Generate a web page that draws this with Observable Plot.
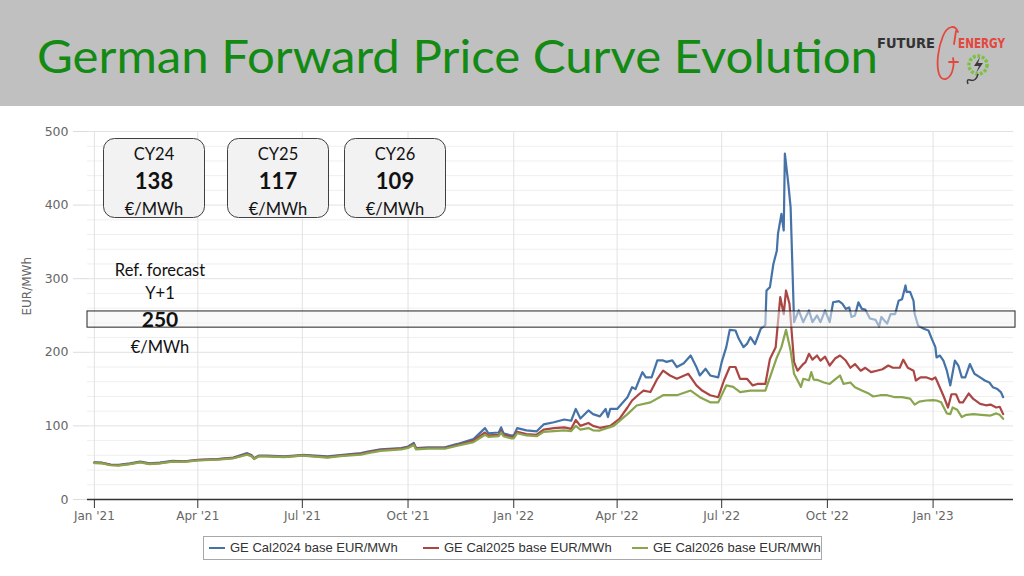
<!DOCTYPE html>
<html><head><meta charset="utf-8">
<script src="https://cdn.jsdelivr.net/npm/d3@7"></script>
<script src="https://cdn.jsdelivr.net/npm/@observablehq/plot@0.6"></script>
<style>
html,body{margin:0;padding:0;background:#fff;}
#page{position:relative;width:1024px;height:576px;overflow:hidden;background:#fff;}
#head{position:absolute;left:0;top:0;}
#chart{position:absolute;left:0;top:110px;}
#over{position:absolute;left:0;top:0;pointer-events:none;}
#legend{position:absolute;left:203px;top:536px;width:617px;height:22px;border:1px solid #a8a8a8;background:#fff;
  font-family:"Liberation Sans",Arial,sans-serif;font-size:13px;color:#333;}
.li{position:absolute;top:0;height:22px;line-height:22px;white-space:nowrap;}
.sw{display:inline-block;width:16px;height:2px;vertical-align:middle;margin-right:5px;position:relative;top:-1px;}
</style></head>
<body><div id="page">
<svg id="head" width="1024" height="106">
  <rect x="0" y="0" width="1024" height="106" fill="#c0c0c0"></rect>
  <text id="title" x="37" y="73" font-family="Lato, 'Open Sans', sans-serif" font-size="46" fill="#138a13" textLength="841" lengthAdjust="spacingAndGlyphs">German Forward Price Curve Evolution</text>
  <text x="877" y="48" font-family="'DejaVu Sans Condensed','DejaVu Sans',sans-serif" font-weight="bold" font-size="14" fill="#333" textLength="58" lengthAdjust="spacingAndGlyphs">FUTURE</text>
  <text x="958" y="48" font-family="'DejaVu Sans Condensed','DejaVu Sans',sans-serif" font-weight="bold" font-size="14" fill="#e4473d" textLength="47" lengthAdjust="spacingAndGlyphs">ENERGY</text>
  <path d="M958 32 C955 24 947 26 943 36 C938 48 936 64 939 74 C942 82 949 80 952 72 C954 66 954 62 953 58 M949 62 L958 62 M956 31 L954 44" fill="none" stroke="#e4473d" stroke-width="1.8" stroke-linecap="round"></path>
  <circle cx="978" cy="65" r="9" fill="none" stroke="#7cc242" stroke-width="3.5" stroke-dasharray="3 1.6"></circle>
  <path d="M980 57 L974 66 L979 66 L976 73 L983 63 L978 63 Z" fill="#3b3b3b"></path>
  <path d="M978 74 Q976 82 970 80 Q966 79 968 84" fill="none" stroke="#3b3b3b" stroke-width="1.5"></path>
</svg>
<div id="chart"></div>
<svg id="over" width="1024" height="576"></svg>
<div id="legend"></div>
</div>
<script>
// ---- data ----
const seriesNames = ["GE Cal2024 base EUR/MWh","GE Cal2025 base EUR/MWh","GE Cal2026 base EUR/MWh"];
const seriesColors = ["#4572a7","#aa4643","#89a54e"];

const cal2024 = [
["2021-01-01",50.5],["2021-01-08",50],["2021-01-15",47.5],["2021-01-22",47],["2021-02-01",49],["2021-02-10",51.5],["2021-02-18",49],["2021-02-27",50],["2021-03-10",52.5],["2021-03-20",52],["2021-04-01",54],["2021-04-18",55],["2021-05-02",57],["2021-05-08",60],["2021-05-14",63],["2021-05-18",60],["2021-05-20",56],["2021-05-24",59.5],["2021-05-31",59.5],["2021-06-15",58.5],["2021-07-01",60.5],["2021-07-23",58.5],["2021-08-03",60.5],["2021-08-21",63],["2021-08-27",65],["2021-09-07",68],["2021-09-25",70],["2021-10-01",72],["2021-10-06",77],["2021-10-08",70],["2021-10-18",71],["2021-11-02",71],["2021-11-13",75.5],["2021-11-27",82],["2021-12-07",97],["2021-12-10",90],["2021-12-19",91],["2021-12-21",98],["2021-12-23",90],["2021-12-30",87],
["2022-01-01",87],["2022-01-04",97],["2022-01-12",94],["2022-01-21",92.6],["2022-01-27",102],["2022-02-05",105],["2022-02-14",108.7],["2022-02-20",107],["2022-02-24",123],["2022-02-28",110],["2022-03-07",121],["2022-03-11",116],["2022-03-17",113],["2022-03-22",123],["2022-03-24",112],["2022-03-26",123],["2022-04-01",123],["2022-04-05",130],["2022-04-10",139],["2022-04-14",152.6],["2022-04-17",150],["2022-04-20",161.7],["2022-04-23",173],["2022-04-26",166],["2022-05-01",166],["2022-05-06",189],["2022-05-11",189],["2022-05-14",187],["2022-05-19",189],["2022-05-23",180],["2022-05-29",185],["2022-06-04",195.6],["2022-06-09",180],["2022-06-12",168.5],["2022-06-17",177.6],["2022-06-21",168.5],["2022-06-28",166],["2022-07-01",186.6],["2022-07-05",207],["2022-07-08",230.5],["2022-07-13",229.6],["2022-07-16",218],["2022-07-20",207],["2022-07-23",211.4],["2022-07-26",220.5],["2022-07-30",211],["2022-08-04",232],["2022-08-08",237],["2022-08-09",284],["2022-08-12",288.5],["2022-08-15",320],["2022-08-18",338],["2022-08-19",361],["2022-08-22",388],["2022-08-24",365.5],["2022-08-25",470],["2022-08-28",429],["2022-08-30",397],["2022-09-02",241],["2022-09-06",257],["2022-09-10",241],["2022-09-15",256.8],["2022-09-18",241],["2022-09-22",250],["2022-09-25",241],["2022-09-29",257],["2022-10-03",241],["2022-10-06",268],["2022-10-11",269.5],["2022-10-14",266],["2022-10-17",259],["2022-10-20",261],["2022-10-22",248],["2022-10-25",250],["2022-10-28",268],["2022-10-31",259],["2022-11-03",258],["2022-11-07",246],["2022-11-12",244],["2022-11-15",235],["2022-11-17",248],["2022-11-22",239],["2022-11-25",252],["2022-11-29",252],["2022-12-02",270],["2022-12-05",272],["2022-12-08",290.8],["2022-12-09",282],["2022-12-12",282],["2022-12-15",270],["2022-12-16",252],["2022-12-19",236],["2022-12-24",232],["2022-12-28",229.6],["2022-12-31",218],
["2023-01-03",207],["2023-01-04",193],["2023-01-07",195.6],["2023-01-10",188.8],["2023-01-13",175],["2023-01-16",155],["2023-01-20",188.8],["2023-01-23",182],["2023-01-26",166],["2023-01-29",166],["2023-02-02",184],["2023-02-06",170.8],["2023-02-11",166],["2023-02-15",161.7],["2023-02-19",159],["2023-02-22",152.6],["2023-02-26",150],["2023-03-01",146],["2023-03-03",139]
];

const cal2025 = [
["2021-01-01",50],["2021-01-08",49.5],["2021-01-15",47],["2021-01-22",46.5],["2021-02-01",48.5],["2021-02-10",51],["2021-02-18",48.5],["2021-02-27",49.5],["2021-03-10",52],["2021-03-20",51.5],["2021-04-01",53.5],["2021-04-18",54.5],["2021-05-02",56.5],["2021-05-08",59],["2021-05-14",62],["2021-05-18",59],["2021-05-20",55.5],["2021-05-24",59],["2021-05-31",59],["2021-06-15",58],["2021-07-01",60],["2021-07-23",57.5],["2021-08-03",59.5],["2021-08-21",62],["2021-08-27",64],["2021-09-07",67],["2021-09-25",69],["2021-10-01",71],["2021-10-06",75],["2021-10-08",69],["2021-10-18",70],["2021-11-02",70],["2021-11-13",74],["2021-11-27",80],["2021-12-07",91],["2021-12-10",87],["2021-12-19",88],["2021-12-21",93],["2021-12-23",88],["2021-12-30",85],
["2022-01-01",85],["2022-01-04",92],["2022-01-12",89],["2022-01-21",88],["2022-01-27",95],["2022-02-05",97],["2022-02-14",98],["2022-02-20",96],["2022-02-24",108],["2022-02-28",100],["2022-03-07",104],["2022-03-11",100],["2022-03-17",97.4],["2022-03-26",100],["2022-04-03",109.6],["2022-04-10",125],["2022-04-14",134.5],["2022-04-20",143],["2022-04-24",148],["2022-04-30",146],["2022-05-06",164],["2022-05-11",175],["2022-05-17",168.5],["2022-05-23",164],["2022-06-02",170.8],["2022-06-09",155],["2022-06-14",148],["2022-06-21",141.7],["2022-06-28",139],["2022-07-03",161.7],["2022-07-08",180],["2022-07-13",180],["2022-07-17",164],["2022-07-23",164],["2022-07-28",155],["2022-08-01",157],["2022-08-08",157],["2022-08-12",191],["2022-08-17",207],["2022-08-21",275],["2022-08-24",252],["2022-08-26",284],["2022-08-29",266],["2022-09-02",186.6],["2022-09-05",175],["2022-09-10",184],["2022-09-12",186.6],["2022-09-15",198],["2022-09-18",190],["2022-09-22",195.6],["2022-09-25",188.8],["2022-09-29",194],["2022-10-03",182],["2022-10-08",192],["2022-10-12",195.6],["2022-10-17",188.8],["2022-10-21",179],["2022-10-25",184],["2022-10-30",175],["2022-11-03",179],["2022-11-08",173],["2022-11-13",175],["2022-11-18",177],["2022-11-23",182],["2022-11-27",179],["2022-12-03",179],["2022-12-06",190],["2022-12-10",179],["2022-12-15",175],["2022-12-17",161.7],["2022-12-21",166],["2022-12-26",166],["2022-12-31",163],
["2023-01-03",166],["2023-01-05",159],["2023-01-10",141],["2023-01-14",125],["2023-01-17",143],["2023-01-21",143],["2023-01-24",132],["2023-01-27",132],["2023-02-01",144],["2023-02-05",136.6],["2023-02-11",130],["2023-02-16",128],["2023-02-20",129],["2023-02-25",125],["2023-02-28",126],["2023-03-03",116]
];

const cal2026 = [
["2021-01-01",49.5],["2021-01-08",49],["2021-01-15",46.5],["2021-01-22",46],["2021-02-01",48],["2021-02-10",50.5],["2021-02-18",48],["2021-02-27",49],["2021-03-10",51.5],["2021-03-20",51],["2021-04-01",53],["2021-04-18",54],["2021-05-02",56],["2021-05-08",58.5],["2021-05-14",61],["2021-05-18",58.5],["2021-05-20",55],["2021-05-24",58.5],["2021-05-31",58.5],["2021-06-15",57.5],["2021-07-01",59.5],["2021-07-23",57],["2021-08-03",59],["2021-08-21",61],["2021-08-27",63],["2021-09-07",66],["2021-09-25",68],["2021-10-01",70],["2021-10-06",74],["2021-10-08",68],["2021-10-18",69],["2021-11-02",69],["2021-11-13",73],["2021-11-27",78],["2021-12-07",88],["2021-12-10",85],["2021-12-19",86],["2021-12-21",91],["2021-12-23",86],["2021-12-30",83],
["2022-01-01",83],["2022-01-04",90],["2022-01-12",87],["2022-01-21",86],["2022-01-27",92],["2022-02-05",93],["2022-02-14",94],["2022-02-20",93],["2022-02-24",100],["2022-02-28",95],["2022-03-07",97],["2022-03-11",94],["2022-03-17",93.7],["2022-03-29",100],["2022-04-10",116],["2022-04-18",127.7],["2022-04-30",132],["2022-05-11",141.7],["2022-05-23",141.7],["2022-06-04",148],["2022-06-12",139],["2022-06-21",132],["2022-06-28",132],["2022-07-05",155],["2022-07-11",153],["2022-07-17",146],["2022-07-26",148],["2022-08-08",148],["2022-08-12",166],["2022-08-18",193],["2022-08-22",207],["2022-08-26",230.5],["2022-08-30",202],["2022-09-02",170.8],["2022-09-08",153],["2022-09-10",164],["2022-09-15",162],["2022-09-17",173],["2022-09-19",163],["2022-09-22",162.6],["2022-09-28",159],["2022-10-03",157],["2022-10-08",163.5],["2022-10-12",168.5],["2022-10-15",157],["2022-10-21",159],["2022-10-25",152.6],["2022-10-31",148],["2022-11-06",143.9],["2022-11-10",140],["2022-11-16",141.7],["2022-11-22",141.7],["2022-11-29",139],["2022-12-05",139],["2022-12-12",137],["2022-12-16",129],["2022-12-20",133],["2022-12-26",134.5],
["2023-01-01",135],["2023-01-04",134.5],["2023-01-08",132],["2023-01-13",117],["2023-01-16",116],["2023-01-18",125],["2023-01-22",122],["2023-01-26",112],["2023-01-30",115],["2023-02-05",116],["2023-02-12",115],["2023-02-20",114],["2023-02-25",117],["2023-02-28",115],["2023-03-03",109.6]
];

const xTickDates = ["2021-01-01","2021-04-01","2021-07-01","2021-10-01","2022-01-01","2022-04-01","2022-07-01","2022-10-01","2023-01-01"];
const xTickLabels = ["Jan '21","Apr '21","Jul '21","Oct '21","Jan '22","Apr '22","Jul '22","Oct '22","Jan '23"];
const xDomain = ["2020-12-26","2023-03-12"];
const yTicks = [0,100,200,300,400,500];
const yMinorTicks = [20,40,60,80,120,140,160,180,220,240,260,280,320,340,360,380,420,440,460,480];
const refBand = [{lo:233.5, hi:255.5}];
const yLabel = "EUR/MWh";

const cyLabels = ["CY24","CY25","CY26"];
const cyValues = ["138","117","109"];
const unitLabel = "€/MWh";
const refLines = ["Ref. forecast","Y+1","250","€/MWh"];

// ---- build ----
const parse = s => new Date(s + "T00:00:00Z");
const xt = xTickDates.map(parse);
const labelOf = new Map(xt.map((d,i)=>[+d, xTickLabels[i]]));
const data = [];
[cal2024, cal2025, cal2026].forEach((arr, i) => {
  for (const [d, v] of arr) data.push({series: seriesNames[i], date: parse(d), value: v});
});

const chart = Plot.plot({
  width: 1024, height: 425,
  marginLeft: 87, marginRight: 11, marginTop: 21, marginBottom: 36,
  style: {fontFamily: "'DejaVu Sans', sans-serif", fontSize: "11px", background: "transparent", color: "#666", overflow: "visible"},
  x: {type: "utc", domain: xDomain.map(parse)},
  y: {domain: [0, 500]},
  color: {domain: seriesNames, range: seriesColors},
  marks: [
    Plot.gridY(yMinorTicks, {stroke: "#efefef", strokeOpacity: 1}),
    Plot.gridY(yTicks, {stroke: "#e2e2e2", strokeOpacity: 1}),
    Plot.gridX(xt, {stroke: "#e2e2e2", strokeOpacity: 1}),
    Plot.axisY(yTicks, {tickSize: 14, tickPadding: 5, stroke: "#dcdcdc", fill: "#666", label: null, fontSize: 12.5}),
    Plot.axisX(xt, {tickSize: 9, tickPadding: 3, stroke: "#333", fill: "#666", tickFormat: d => labelOf.get(+d), label: null, fontSize: 12}),
    Plot.ruleY([0], {stroke: "#333", strokeWidth: 1.5}),
    Plot.lineY(data, {x: "date", y: "value", z: "series", stroke: "series", strokeWidth: 2.2}),
    Plot.rect(refBand, {y1: "lo", y2: "hi", fill: "#f4f4f4", fillOpacity: 0.5, stroke: "#222", strokeWidth: 1, insetRight: -2}),
    Plot.text([yLabel], {frameAnchor: "left", dx: -60, rotate: -90, fill: "#666", fontSize: 12})
  ]
});
document.getElementById("chart").appendChild(chart);

// ---- overlay annotations ----
const over = d3.select("#over");
const boxLefts = [103, 227, 344];
const boxW = 101, boxTop = 138, boxH = 79;
const F = "Lato, 'Open Sans', sans-serif";
cyLabels.forEach((lab, i) => {
  const g = over.append("g").attr("transform", `translate(${boxLefts[i]},${boxTop})`);
  g.append("rect").attr("x", 0.5).attr("y", 0.5).attr("width", boxW).attr("height", boxH)
    .attr("rx", 11).attr("fill", "#f2f2f2").attr("stroke", "#404040").attr("stroke-width", 1);
  const cx = boxW / 2 + 0.5;
  g.append("text").attr("x", cx).attr("y", 22).attr("text-anchor", "middle").attr("font-family", F).attr("font-size", 16.5).attr("fill", "#111").text(lab);
  g.append("text").attr("x", cx).attr("y", 51).attr("text-anchor", "middle").attr("font-family", F).attr("font-size", 22).attr("font-weight", 700).attr("fill", "#111").text(cyValues[i]);
  g.append("text").attr("x", cx).attr("y", 77).attr("text-anchor", "middle").attr("font-family", F).attr("font-size", 16.5).attr("fill", "#111").text(unitLabel);
});
const refY = [275.5, 298.5, 327, 352.5];
const refSize = [16.5, 16.5, 21, 16.5];
refLines.forEach((t, i) => {
  over.append("text").attr("x", 160).attr("y", refY[i]).attr("text-anchor", "middle").attr("font-family", F)
    .attr("font-size", refSize[i]).attr("font-weight", i === 2 ? 700 : 400).attr("fill", "#111").text(t);
});

// ---- legend ----
const legend = document.getElementById("legend");
const legendX = [5, 219, 428];
seriesNames.forEach((name, i) => {
  const el = document.createElement("div");
  el.className = "li";
  el.style.left = legendX[i] + "px";
  el.innerHTML = `<span class="sw" style="background:${seriesColors[i]}"></span>${name}`;
  legend.appendChild(el);
});
</script>
</body></html>
